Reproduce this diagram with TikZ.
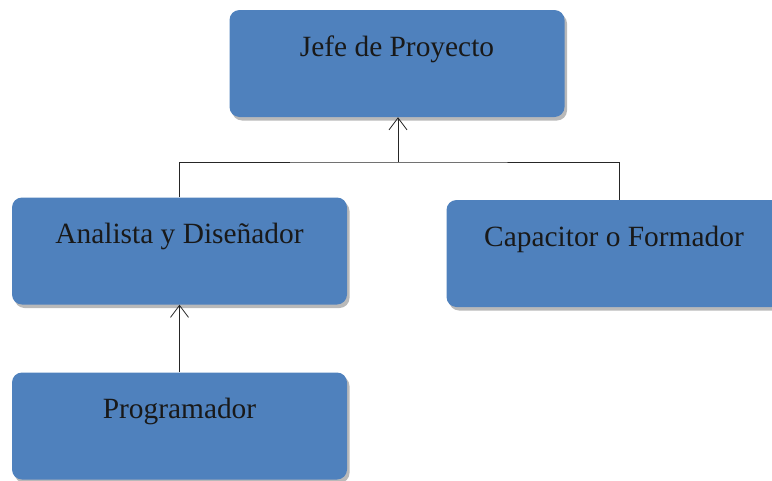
\documentclass[tikz,border=0pt]{standalone}
\usepackage{fontspec}
\setmainfont{Liberation Serif}
\usetikzlibrary{arrows.meta,shadows}

\definecolor{boxblue}{RGB}{79,129,189}

\tikzset{
  puesto/.style={draw=none, fill=boxblue, rounded corners=10bp,
    minimum width=335bp, inner xsep=0pt, inner ysep=0pt,
    text height=46bp, text depth=61bp, text=black!90,
    font=\fontsize{29.5}{34}\selectfont,
    drop shadow={shadow xshift=2.5bp, shadow yshift=-3.5bp, fill=black!50, opacity=.55}},
  enlace/.style={draw=black!85, line width=.8bp},
  flecha/.style={enlace, -{Straight Barb[length=12bp,width=18bp,line width=.8bp]}}
}

\begin{document}
\begin{tikzpicture}
\useasboundingbox (0,0) rectangle (772bp,-481bp);

\node[puesto] (jefe) at (397bp,-63.5bp) {Jefe de Proyecto};
\node[puesto] (analista) at (179.5bp,-251bp) {Analista y Diseñador};
\node[puesto] (capacitor) at (614bp,-253.5bp) {Capacitor o Formador};
\node[puesto] (programador) at (179.5bp,-426bp) {Programador};

% union de los dos puestos con el jefe
\coordinate (union) at (398bp,-162bp);
\draw[enlace] (analista.north) |- (union) -| ([xshift=5bp]capacitor.north);
\draw[flecha] (union) -- (union |- jefe.south);

\draw[flecha] (programador.north) -- (analista.south);
\end{tikzpicture}
\end{document}
